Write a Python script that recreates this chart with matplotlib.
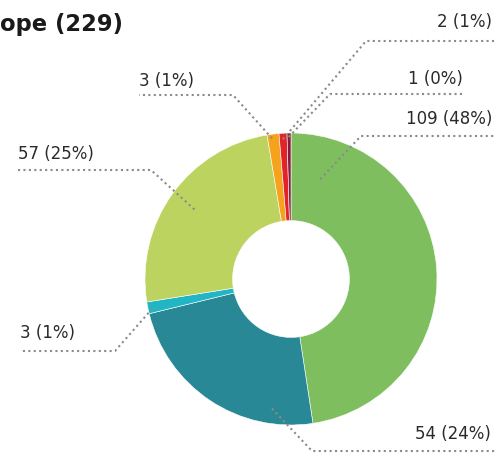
import matplotlib
matplotlib.use('Agg')
import matplotlib.pyplot as plt
import numpy as np

# data
valores = [109, 54, 3, 57, 3, 2, 1]
colores = ['#7fbe5f', '#288896', '#22b6c4', '#bcd35f', '#f5a21c', '#e1242a', '#8c1a3e']
titulo = 'ope (229)'

# figure geometry (pixels)
W, H = 496, 453
cx, cy, R = 291, 279, 146

def px(x, y):
    return (x - cx) / R, (cy - y) / R

fig = plt.figure(figsize=(W / 100, H / 100), dpi=100)
ax = fig.add_axes([0, 0, 1, 1])
ax.pie(valores, colors=colores, startangle=90, counterclock=False, radius=1,
       wedgeprops=dict(width=0.6, edgecolor='white', linewidth=0.4))
ax.set_xlim(-cx / R, (W - cx) / R)
ax.set_ylim(-(H - cy) / R, cy / R)
ax.axis('off')

total = sum(valores)
etiquetas = ['%d (%d%%)' % (v, round(100 * v / total)) for v in valores]

# per label: fraction along wedge, start radius (px), elbow (px), line end x, text x, text centre y (px)
guia = [
    (0.095, 104, (361, 136), 500, 492, 119),
    (0.20, 131, (312, 451), 500, 491, 434),
    (0.35, 142, (115, 351), 20, 20, 333),
    (0.50, 119, (151, 170), 18, 18, 154),
    (0.37, 142, (233, 95), 139, 139, 81),
    (0.45, 140, (366, 41), 500, 492, 22),
    (0.40, 142, (330, 94), 463, 463, 79),
]

ang0 = 90.0
for v, et, (f, r0, codo, xend, xtxt, ty) in zip(valores, etiquetas, guia):
    span = 360.0 * v / total
    a = np.radians(ang0 - f * span)
    ang0 -= span
    x0, y0 = r0 / R * np.cos(a), r0 / R * np.sin(a)
    x1, y1 = px(*codo)
    x2, _ = px(xend, codo[1])
    ax.plot([x0, x1, x2], [y0, y1, y1], color='#8a8a8a', lw=1.5,
            linestyle=(0, (1, 1.6)), clip_on=False)
    tx, tyd = px(xtxt, ty)
    ha = 'right' if xtxt > cx else 'left'
    ax.text(tx, tyd, et, ha=ha, va='center', fontsize=12, color='#2a2a2a')

fig.text(0 / W, 1 - 24 / H, titulo, ha='left', va='center', fontsize=16.3,
         fontweight='bold', color='#1a1a1a')

fig.savefig('out.png', dpi=100)
